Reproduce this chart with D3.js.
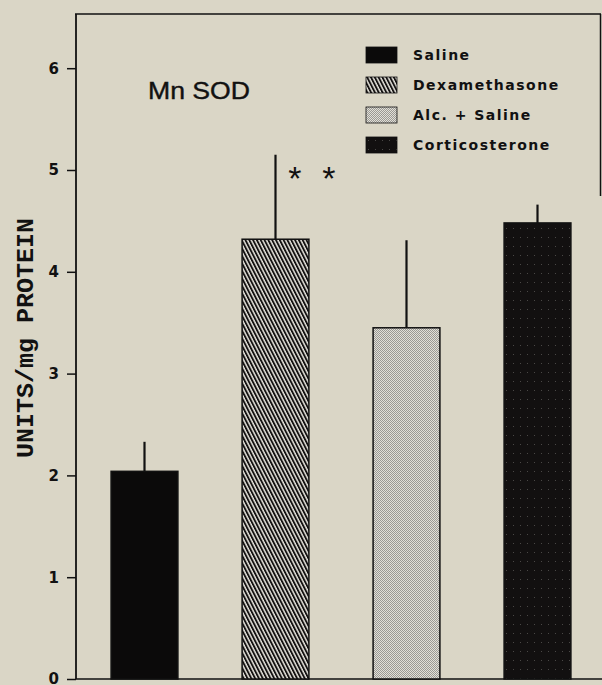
<!DOCTYPE html>
<html><head><meta charset="utf-8">
<script src="https://cdn.jsdelivr.net/npm/d3@7"></script>
<style>
html,body{margin:0;padding:0;background:#dad6c6;}
svg{display:block;}
</style></head>
<body>
<svg id="chart" width="602" height="685"></svg>
<script>
const categories = ["Saline", "Dexamethasone", "Alc. + Saline", "Corticosterone"];
const meanValues = [2.04, 4.32, 3.45, 4.48];
const errorTops  = [2.33, 5.15, 4.31, 4.66];
const yTicks = [0, 1, 2, 3, 4, 5, 6];
const legendLabels = ["Saline", "Dexamethasone", "Alc. + Saline", "Corticosterone"];
const fills = ["url(#solid)", "url(#hatch)", "url(#stipple)", "url(#dark)"];
const titleText = "Mn SOD";
const yLabel = "UNITS/mg PROTEIN";
const annotation = ["*", "*"];

const svg = d3.select("#chart");
const defs = svg.append("defs");

// patterns
const solid = defs.append("pattern").attr("id","solid").attr("patternUnits","userSpaceOnUse").attr("width",4).attr("height",4);
solid.append("rect").attr("width",4).attr("height",4).attr("fill","#0b0a0a");

const hatch = defs.append("pattern").attr("id","hatch").attr("patternUnits","userSpaceOnUse")
  .attr("width",3.4).attr("height",6).attr("patternTransform","rotate(-27)");
hatch.append("rect").attr("width",3.4).attr("height",6).attr("fill","#e6e4dc");
hatch.append("rect").attr("width",1.9).attr("height",6).attr("fill","#141212");

const stip = defs.append("pattern").attr("id","stipple").attr("patternUnits","userSpaceOnUse").attr("width",2).attr("height",2);
stip.append("rect").attr("width",2).attr("height",2).attr("fill","#e2e0d8");
stip.append("rect").attr("width",1).attr("height",1).attr("fill","#9a9994");
stip.append("rect").attr("x",1).attr("y",1).attr("width",1).attr("height",1).attr("fill","#9a9994");

const dark = defs.append("pattern").attr("id","dark").attr("patternUnits","userSpaceOnUse").attr("width",7).attr("height",9);
dark.append("rect").attr("width",7).attr("height",9).attr("fill","#121010");
dark.append("rect").attr("x",2).attr("y",3).attr("width",1).attr("height",1).attr("fill","#4a4846");

const y = d3.scaleLinear().domain([0, 6]).range([679, 68.2]);
const x = d3.scaleBand().domain(categories).range([79, 603]).paddingInner(0.49).paddingOuter(0.245);

// frame
const frameTop = 14;
svg.append("line").attr("x1",75).attr("x2",601).attr("y1",frameTop).attr("y2",frameTop).attr("stroke","#111").attr("stroke-width",1.6);
svg.append("line").attr("x1",600.5).attr("x2",600.5).attr("y1",frameTop).attr("y2",196).attr("stroke","#111").attr("stroke-width",1.5);
svg.append("line").attr("x1",76).attr("x2",76).attr("y1",frameTop).attr("y2",y(0)).attr("stroke","#111").attr("stroke-width",1.8);
svg.append("line").attr("x1",76).attr("x2",602).attr("y1",y(0)).attr("y2",y(0)).attr("stroke","#111").attr("stroke-width",1.6);

// y axis
const yAxis = svg.append("g").attr("transform","translate(76,0)")
  .call(d3.axisLeft(y).tickValues(yTicks).tickFormat(d3.format("d")).tickSize(9).tickPadding(8));
yAxis.select(".domain").remove();
yAxis.selectAll(".tick line").attr("stroke","#111").attr("stroke-width",1.5);
yAxis.selectAll(".tick text").attr("fill","#111")
  .style("font-family","'DejaVu Sans', sans-serif").style("font-weight","bold").style("font-size","15px");

// y label
svg.append("text").attr("transform","translate(33,338) rotate(-90)")
  .attr("text-anchor","middle")
  .attr("textLength",240).attr("lengthAdjust","spacingAndGlyphs")
  .style("font-family","'Liberation Mono', 'DejaVu Sans Mono', monospace").style("font-weight","bold")
  .style("font-size","23px").attr("fill","#111").text(yLabel);

// title
svg.append("text").attr("x",148).attr("y",99)
  .attr("textLength",102).attr("lengthAdjust","spacingAndGlyphs")
  .style("font-family","'Liberation Sans', Arial, sans-serif").style("font-size","24px")
  .attr("fill","#111").attr("stroke","#111").attr("stroke-width",0.4).text(titleText);

// error bars
svg.selectAll(".err").data(categories).enter().append("line")
  .attr("x1", d => x(d) + x.bandwidth()/2).attr("x2", d => x(d) + x.bandwidth()/2)
  .attr("y1", (d,i) => y(meanValues[i])).attr("y2", (d,i) => y(errorTops[i]))
  .attr("stroke","#111").attr("stroke-width",2.2);

// bars
svg.selectAll(".bar").data(categories).enter().append("rect")
  .attr("x", d => x(d)).attr("width", x.bandwidth())
  .attr("y", (d,i) => y(meanValues[i])).attr("height", (d,i) => y(0) - y(meanValues[i]))
  .attr("fill", (d,i) => fills[i]).attr("stroke","#111").attr("stroke-width",1.5);

// asterisks
const dexRight = x("Dexamethasone") + x.bandwidth();
svg.selectAll(".ast").data(annotation).enter().append("text")
  .attr("x", (d,i) => dexRight - 14 + i*34).attr("y", 190)
  .attr("text-anchor","middle")
  .style("font-family","'Liberation Sans', Arial, sans-serif").style("font-size","34px").attr("fill","#111").text(d => d);

// legend
const lg = svg.append("g").attr("transform","translate(366,47)");
const items = lg.selectAll(".li").data(legendLabels).enter().append("g")
  .attr("transform", (d,i) => `translate(0,${i*30})`);
items.append("rect").attr("width",31).attr("height",16).attr("fill",(d,i)=>fills[i]).attr("stroke","#111").attr("stroke-width",0.8);
items.append("text").attr("x",47).attr("y",12.5)
  .style("font-family","'DejaVu Sans', sans-serif").style("font-weight","bold").style("font-size","14px")
  .style("letter-spacing","1.5px").attr("fill","#111").text(d => d);
</script>
</body></html>
